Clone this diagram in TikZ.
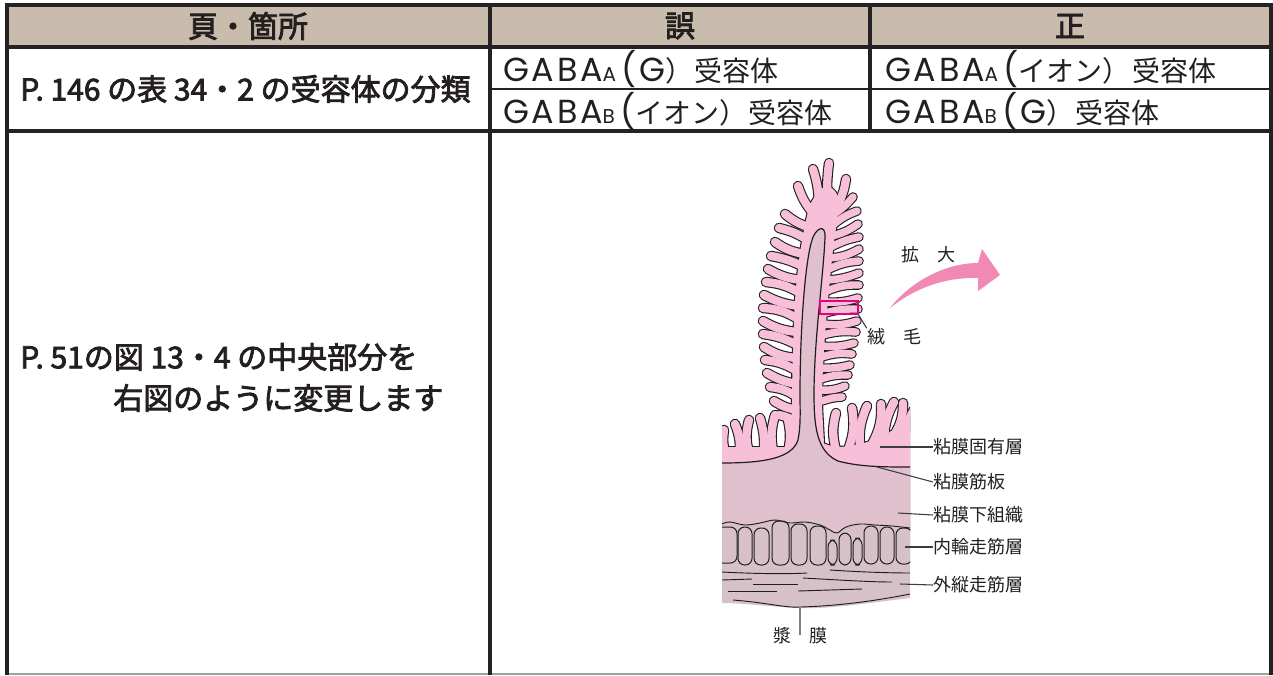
\documentclass[tikz,border=0pt]{standalone}
\usepackage{fontspec}
\newfontfamily\jp{Noto Sans CJK JP}
\newfontfamily\gab[LetterSpace=8]{Poppins}
\definecolor{tabline}{RGB}{38,34,35}
\definecolor{hdrfill}{RGB}{201,188,173}
\definecolor{ink}{RGB}{35,31,32}
\definecolor{lp}{RGB}{247,192,216}
\definecolor{mauve}{RGB}{225,192,206}
\definecolor{musc}{RGB}{214,193,201}
\definecolor{arrowpink}{RGB}{240,137,180}
\definecolor{boxmag}{RGB}{228,0,127}
\definecolor{outl}{RGB}{30,30,30}
\definecolor{leader}{RGB}{60,60,60}
\definecolor{bottomgray}{RGB}{160,160,160}
\newcommand{\subsc}[1]{{\fontsize{15}{15}\selectfont #1}}
\newcommand{\jr}[1]{{\jp\fontsize{21}{25}\selectfont #1}}
\newcommand{\med}[1]{\special{pdf:literal direct 2 Tr 0.6 w}#1\special{pdf:literal direct 0 Tr}}
\begin{document}
\begin{tikzpicture}[x=0.75pt,y=-0.75pt,
  tl/.style={draw=tabline,line width=2.3pt},
  tlthin/.style={draw=tabline,line width=1.6pt},
  hd/.style={font=\jp\fontsize{22.5}{27}\selectfont,text=ink,inner sep=0pt},
  gb/.style={font=\gab\fontsize{25}{28}\selectfont,text=ink,inner sep=0pt,anchor=west},
  lbl/.style={font=\jp\fontsize{13.5}{16}\selectfont,text=ink,inner sep=0pt},
  ldr/.style={draw=leader,line width=0.8pt},
  blk/.style={draw=outl,line width=1.65pt,line join=round,fill=outl},
  vlb/.style={draw=outl,line cap=round,line width=7.9pt},
  vlp/.style={draw=lp,line cap=round,line width=6.25pt},
  vrb/.style={draw=outl,line cap=round,line width=7.2pt},
  vrp/.style={draw=lp,line cap=round,line width=5.55pt},
  vtb/.style={draw=outl,line cap=round,line width=7.8pt},
  vtp/.style={draw=lp,line cap=round,line width=6.15pt},
  cell/.style={draw=outl,line width=0.75pt,rounded corners=5pt},
  fib/.style={draw=outl,line width=0.7pt}
]
\useasboundingbox (0,0) rectangle (1273,675);
\fill[white] (0,0) rectangle (1273,675);

% ---------------- table ----------------
\fill[hdrfill] (7,5) rectangle (1270,47);
\draw[tlthin] (490,89) -- (1270,89);
\draw[draw=bottomgray,line width=1.2pt] (7,674) -- (1271,674);
\draw[tl] (7,675) -- (7,5) -- (1271,5) -- (1271,675);
\draw[tl] (7,47) -- (1271,47);
\draw[tl] (7,131) -- (1271,131);
\draw[tl] (490,5) -- (490,675);
\draw[tl] (870,5) -- (870,131);

\node[hd] (h1) at (248,26) {\med{頁・箇所}};
\node[hd] (h2) at (680,26) {\med{誤}};
\node[hd] (h3) at (1070,26) {\med{正}};
\node[hd,anchor=west] (r1) at (20,89) {\med{P. 146 の表 34・2 の受容体の分類}};
\node[gb] (w1) at (503,69) {GABA\subsc{A}\,(G\jr{）}\hspace{1pt}\jr{受容体}};
\node[gb] (w2) at (503,111) {GABA\subsc{B}\,(\jr{イオン）}\hspace{1pt}\jr{受容体}};
\node[gb] (c1) at (885,69) {GABA\subsc{A}\,(\jr{イオン）}\hspace{1pt}\jr{受容体}};
\node[gb] (c2) at (885,111) {GABA\subsc{B}\,(G\jr{）}\hspace{1pt}\jr{受容体}};
\node[hd,anchor=west] (r2a) at (20,357) {\med{P. 51の図 13・4 の中央部分を}};
\node[hd,anchor=west] (r2b) at (113,398) {\med{右図のように変更します}};

% ---------------- figure ----------------
\def\bodyp{plot[smooth cycle] coordinates {(793,480) (792,400) (793,350) (795,300) (799,260) (804,230) (810,205) (820,190) (830,187) (838,197) (837,220) (833,250) (828,300) (824,350) (822,400) (823,480)}}
\def\rbase{(812,530) -- (812,440) -- (835,447) .. controls (868,447) and (893,432) .. (912,416) -- (912,530) -- cycle}
\def\lbase{(722,447) rectangle (800,530)}
\def\tv{812/212/798/186/10, 819/206/813/169/-8, 828/205/829/163/6, 836/208/846/179/-10}
\def\lv{812/228/785/214/12, 809/241/779/228/-10, 806/254/775/242/14, 804/267/771/256/-8, 802/280/768/269/12, 800/293/766/282/-12, 799/306/764/295/10, 798/319/763/308/-14, 797/332/763/321/12, 797/345/763/334/-10, 797/358/764/347/14, 797/371/765/360/-12, 797/384/767/373/10, 797/397/770/387/-14, 798/410/774/401/12, 798/423/779/415/-10}
\def\rv{834/214/853/197/-8, 833/225/857/211/10, 832/236/858/224/-10, 831/247/859/237/8, 830/258/859/249/-12, 829/269/859/261/10, 828/280/859/273/-8, 827/291/859/285/12, 826/302/858/298/-10, 825/313/858/309/8, 824/324/857/321/-12, 823/335/856/332/10, 822/346/854/343/-10, 822/357/852/354/12, 821/368/850/365/-8, 821/379/848/375/10, 821/390/845/386/-12, 822/401/842/397/8}
\def\bv{727/458/724/430/15, 739/458/735/424/-15, 751/458/749/420/18, 763/458/760/418/-12, 775/458/775/415/16, 787/455/788/420/-14, 836/450/836/413/15, 848/450/852/408/-15, 860/448/867/406/14, 872/444/881/404/-16, 884/438/894/402/12, 896/432/903/403/-14, 908/426/915/408/12}
\def\mmcurve{(722,463) .. controls (765,463) and (792,458) .. (798,440) .. controls (801,425) and (800,410) .. (800,395) .. controls (800,330) and (805,262) .. (812,240) .. controls (815,229) and (826,222) .. (825,238) .. controls (823,280) and (814,340) .. (814,395) .. controls (814,430) and (818,452) .. (838,461) .. controls (860,467) and (885,467) .. (910,467)}
\def\mtop{plot[smooth,tension=0.6] coordinates {(722,524) (730,522) (745,525) (760,523) (775,520) (790,523) (805,522) (820,525) (830,530) (837,533) (846,527) (860,524) (875,525) (892,526) (910,528)}}

\begin{scope}
\clip (722,140) rectangle (910,630);
% outline pass
\filldraw[blk] \bodyp;
\filldraw[blk] \lbase;
\filldraw[blk] \rbase;
\foreach \a/\b/\c/\d/\e in \tv {\draw[vtb] (\a,\b) to[bend left=\e] (\c,\d);}
\foreach \a/\b/\c/\d/\e in \lv {\draw[vlb] (\a,\b) to[bend left=\e] (\c,\d);}
\foreach \a/\b/\c/\d/\e in \rv {\draw[vrb] (\a,\b) to[bend left=\e] (\c,\d);}
\foreach \a/\b/\c/\d/\e in \bv {\draw[vlb] (\a,\b) to[bend left=\e] (\c,\d);}
% pink pass
\fill[lp] \bodyp;
\fill[lp] \lbase;
\fill[lp] \rbase;
\foreach \a/\b/\c/\d/\e in \tv {\draw[vtp] (\a,\b) to[bend left=\e] (\c,\d);}
\foreach \a/\b/\c/\d/\e in \lv {\draw[vlp] (\a,\b) to[bend left=\e] (\c,\d);}
\foreach \a/\b/\c/\d/\e in \rv {\draw[vrp] (\a,\b) to[bend left=\e] (\c,\d);}
\foreach \a/\b/\c/\d/\e in \bv {\draw[vlp] (\a,\b) to[bend left=\e] (\c,\d);}
% submucosa and core
\fill[mauve] \mmcurve -- (910,540) -- (722,540) -- cycle;
\draw[fib,line width=0.9pt] \mmcurve;
% muscle layers
\fill[musc] \mtop -- (910,598) .. controls (860,604) and (830,609) .. (800,608) .. controls (770,607) and (745,603) .. (722,603) -- cycle;
\foreach \a/\b/\c/\d in {716/527/737/563, 738/527/752/565, 754/528/769/565, 772/521/789/565, 791/524/807/565, 810/526/826/565, 828/540/837/565, 839/533/851/565, 853/538/862/565, 864/526/878/564, 880/527/894/564, 896/528/912/564}
  {\filldraw[cell,fill=musc] (\a,\b) rectangle (\c,\d);}
\draw[fib] \mtop;
\draw[fib] (722,572) .. controls (760,574) and (790,574) .. (807,573);
\draw[fib] (830,570) .. controls (860,572) and (890,573) .. (910,573);
\draw[fib] (722,580) -- (752,579);
\draw[fib] (803,578) .. controls (840,580) and (870,582) .. (892,582);
\draw[fib] (753,584) -- (798,584);
\draw[fib] (728,591) -- (777,591);
\draw[fib] (798,591) -- (862,589);
\draw[fib] (733,600) .. controls (770,603) and (785,608) .. (800,607) .. controls (840,606) and (880,600) .. (910,594);
\end{scope}

% highlight box and arrow
\draw[draw=boxmag,line width=0.8pt] (820,301) rectangle (858,314);
\coordinate (boxc) at (858,314);
\fill[arrowpink] (890,308) .. controls (910,282) and (945,263) .. (978,263) -- (982,249) -- (1000,275) -- (978,291) -- (978,278) .. controls (945,277) and (915,288) .. (890,308) -- cycle;

% labels
\node[lbl] (tkd) at (928,255) {拡　大};
\node[lbl] (tju) at (894,337) {絨　毛};
\draw[ldr] (boxc) -- (tju.north west);

\coordinate (p1) at (880,447);
\coordinate (p2) at (877,467);
\coordinate (p3) at (898,513);
\coordinate (p4) at (905,547);
\coordinate (p5) at (900,584);
\coordinate (p6) at (800,608);
\node[lbl,anchor=west] (t1) at (933,447) {粘膜固有層};
\node[lbl,anchor=west] (t2) at (933,482) {粘膜筋板};
\node[lbl,anchor=west] (t3) at (933,515) {粘膜下組織};
\node[lbl,anchor=west] (t4) at (933,547) {内輪走筋層};
\node[lbl,anchor=west] (t5) at (933,585) {外縦走筋層};
\node[lbl] (t6) at (800,636) {漿　膜};
\draw[ldr] (p1) -- (t1.west);
\draw[ldr] (p2) -- (t2.west);
\draw[ldr] (p3) -- (t3.west);
\draw[ldr] (p4) -- (t4.west);
\draw[ldr] (p5) -- (t5.west);
\draw[ldr,draw=gray] (p6) -- ([yshift=-6pt]t6.north);
\end{tikzpicture}
\end{document}
